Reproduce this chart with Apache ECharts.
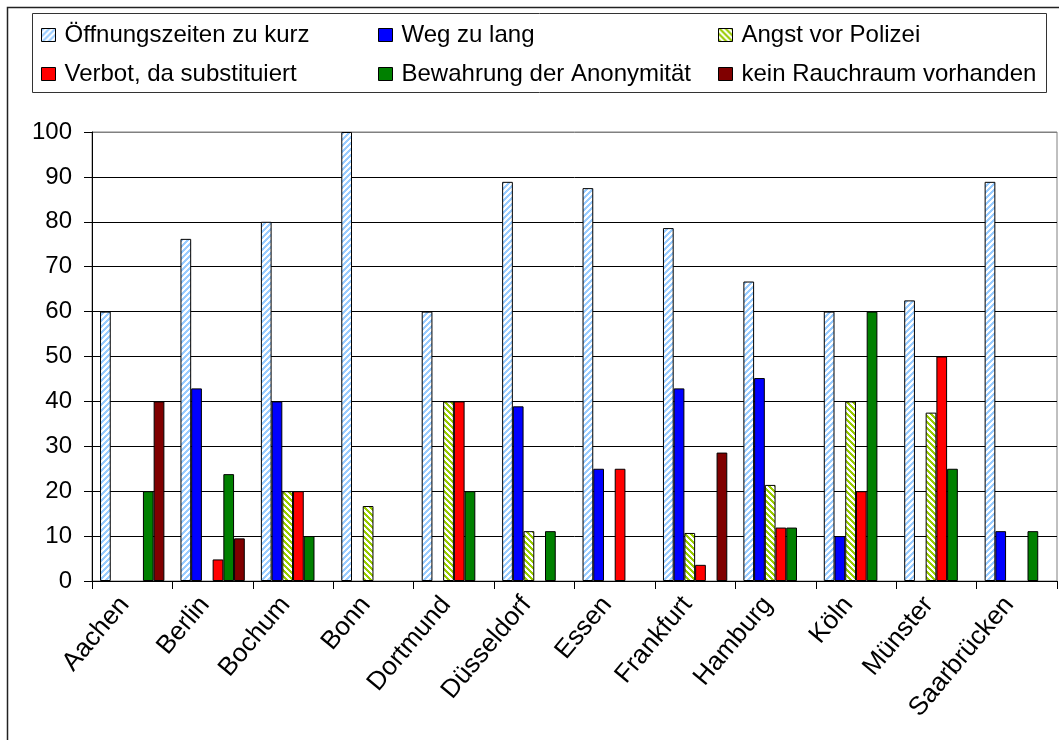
<!DOCTYPE html>
<html>
<head>
<meta charset="utf-8">
<script src="https://cdn.jsdelivr.net/npm/echarts@6/dist/echarts.min.js"></script>
<style>
  html, body { margin: 0; padding: 0; background: #fff; }
  #chart { width: 1059px; height: 740px; }
</style>
</head>
<body>
<div id="chart"></div>
<script>
// Städte (Kategorien)
const cities = ['Aachen', 'Berlin', 'Bochum', 'Bonn', 'Dortmund', 'Düsseldorf',
  'Essen', 'Frankfurt', 'Hamburg', 'Köln', 'Münster', 'Saarbrücken'];

// Gründe (Reihen), Anteile in Prozent; null = keine Nennung
const oeffnungszeiten = [60, 76.2, 80, 100, 60, 88.9, 87.5, 78.6, 66.7, 60, 62.5, 88.9];
const wegZuLang       = [null, 42.9, 40, null, null, 38.9, 25, 42.9, 45.2, 10, null, 11.1];
const angstPolizei    = [null, null, 20, 16.7, 40, 11.1, null, 10.7, 21.4, 40, 37.5, null];
const verbotSubst     = [null, 4.8, 20, null, 40, null, 25, 3.6, 11.9, 20, 50, null];
const anonymitaet     = [20, 23.8, 10, null, 20, 11.1, null, null, 11.9, 60, 25, 11.1];
const keinRauchraum   = [40, 9.5, null, null, null, null, null, 28.6, null, null, null, null];

// Achsenbeschriftung
const yTicks = { min: 0, max: 100, step: 10 };

const FONT = "'Liberation Sans', Arial, sans-serif";

// Schraffur-Kachel: diagonale Streifen auf weißem Grund
function stripes(fg, dir) {
  const n = 6;
  const c = document.createElement('canvas');
  c.width = n; c.height = n;
  const ctx = c.getContext('2d');
  ctx.fillStyle = '#fff';
  ctx.fillRect(0, 0, n, n);
  ctx.fillStyle = fg;
  for (let y = 0; y < n; y++) {
    for (let x = 0; x < n; x++) {
      const k = dir > 0 ? (x + y) % n : (((x - y) % n) + n) % n;
      if (k < 3) ctx.fillRect(x, y, 1, 1);
    }
  }
  return { image: c, repeat: 'repeat' };
}

const seriesDefs = [
  { name: 'Öffnungszeiten zu kurz', data: oeffnungszeiten, color: stripes('#99CCFF', 1) },
  { name: 'Weg zu lang', data: wegZuLang, color: '#0000FF' },
  { name: 'Angst vor Polizei', data: angstPolizei, color: stripes('#99CC00', -1) },
  { name: 'Verbot, da substituiert', data: verbotSubst, color: '#FF0000' },
  { name: 'Bewahrung der Anonymität', data: anonymitaet, color: '#008000' },
  { name: 'kein Rauchraum vorhanden', data: keinRauchraum, color: '#800000' }
];

// Legende: zwei Zeilen zu je drei Spalten
const legendCols = [41, 378, 718];
const legendRows = [23, 62];
const legends = seriesDefs.map((s, i) => ({
  data: [s.name],
  left: legendCols[i % 3],
  top: legendRows[Math.floor(i / 3)],
  padding: 0,
  icon: 'rect',
  itemWidth: 14,
  itemHeight: 13,
  itemStyle: { borderColor: '#000', borderWidth: 1 },
  selectedMode: false,
  textStyle: { fontFamily: FONT, fontSize: 24, color: '#000', lineHeight: 24, padding: [0, 0, 0, 4] }
}));

// Gitterlinien schwarz, oberste Linie grau wie der Rahmen
const gridLineColors = ['#000', '#000', '#000', '#000', '#000', '#000',
  '#000', '#000', '#000', '#000', '#808080'];

const chart = echarts.init(document.getElementById('chart'), null, { renderer: 'canvas' });

chart.setOption({
  animation: false,
  backgroundColor: '#fff',
  textStyle: { fontFamily: FONT },
  legend: legends,
  graphic: [
    { type: 'rect', shape: { x: 7.5, y: 7.5, width: 1070, height: 760 },
      style: { fill: 'none', stroke: '#222', lineWidth: 1.5 }, silent: true, z: -1 },
    { type: 'rect', shape: { x: 32.5, y: 13.5, width: 1014, height: 79 },
      style: { fill: 'none', stroke: '#333', lineWidth: 1 }, silent: true, z: -1 }
  ],
  grid: {
    left: 92, top: 132, right: 2, bottom: 159,
    show: true, borderColor: '#808080', borderWidth: 1, backgroundColor: 'transparent'
  },
  xAxis: {
    type: 'category',
    data: cities,
    axisLine: { lineStyle: { color: '#000', width: 1 } },
    axisTick: { show: true, length: 8, lineStyle: { color: '#000' } },
    axisLabel: {
      rotate: 50, margin: 10, fontSize: 26, color: '#000', fontFamily: FONT,
      interval: 0, padding: [0, 12, 0, 0]
    }
  },
  yAxis: {
    type: 'value',
    min: yTicks.min, max: yTicks.max, interval: yTicks.step,
    axisLine: { show: true, lineStyle: { color: '#000', width: 1 } },
    axisTick: { show: true, length: 8, lineStyle: { color: '#000' } },
    axisLabel: { margin: 20, fontSize: 24, color: '#000', fontFamily: FONT },
    splitLine: { show: true, lineStyle: { color: gridLineColors, width: 1 } }
  },
  series: seriesDefs.map(s => ({
    type: 'bar',
    name: s.name,
    data: s.data,
    barGap: '0%',
    barCategoryGap: '20%',
    itemStyle: { color: s.color, borderColor: '#000', borderWidth: 1 }
  }))
});
</script>
</body>
</html>
